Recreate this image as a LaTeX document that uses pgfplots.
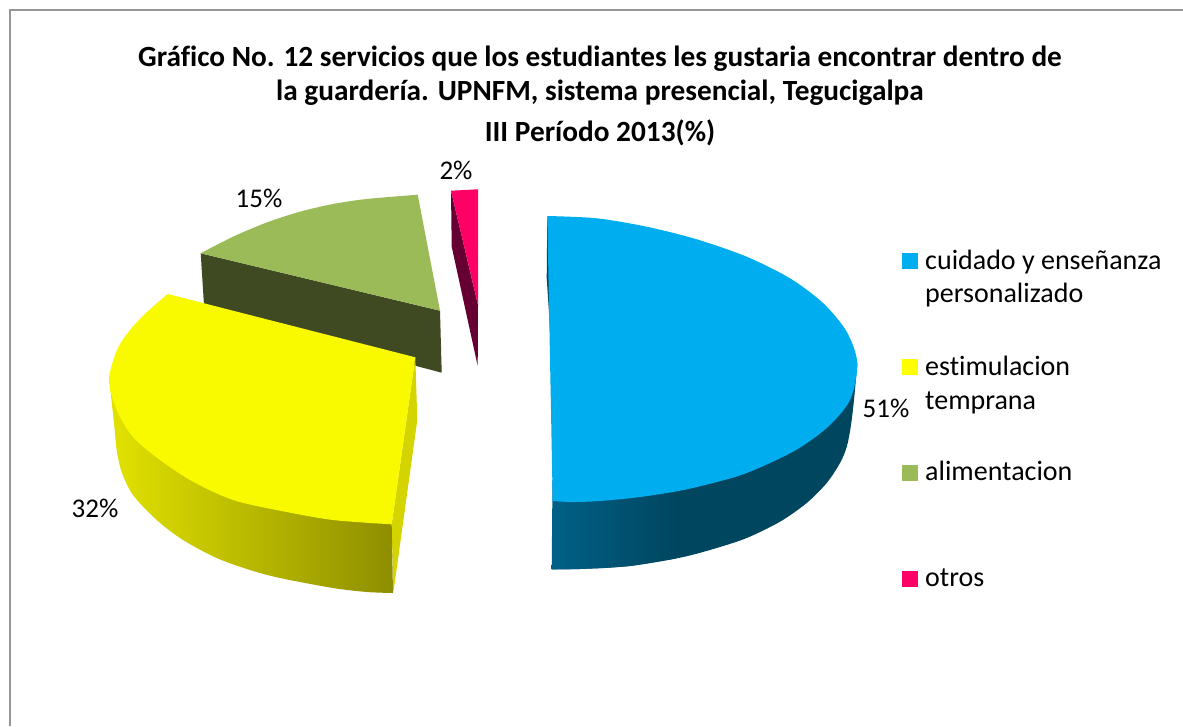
\documentclass[border=0pt]{standalone}
\usepackage{pgfplots}
\pgfplotsset{compat=1.18}
\usepackage{fontspec}
\setmainfont{Carlito}[Ligatures=NoCommon]
\definecolor{cblue}{HTML}{00AEEF}
\definecolor{cyel}{HTML}{F9F900}
\definecolor{cyelb}{HTML}{FFFF00}
\definecolor{cgreen}{HTML}{9BBB59}
\definecolor{cgreend}{HTML}{3F4A22}
\definecolor{cpink}{HTML}{FF0066}
\definecolor{cpinkd}{HTML}{660033}
\definecolor{cframe}{HTML}{969696}
\definecolor{cyels}{HTML}{D4D400}
\definecolor{cyell}{HTML}{E2E200}
\definecolor{cyelr}{HTML}{8E8E00}
\definecolor{cbluel}{HTML}{006187}
\definecolor{cblued}{HTML}{00465F}
\newcommand{\titlefont}{\fontsize{29.3}{33}\selectfont\bfseries}
\newcommand{\legfont}{\fontsize{28}{30}\selectfont}
\newcommand{\pctfont}{\fontsize{27}{28}\selectfont}
\begin{document}
\begin{tikzpicture}
\path[use as bounding box] (0,0) rectangle (1183pt,726pt);
\begin{axis}[at={(0pt,0pt)},anchor=south west,scale only axis,width=1183pt,height=726pt,
  xmin=0,xmax=1183,ymin=0,ymax=726,y dir=reverse,hide axis,clip=false,no markers]
\addplot[draw=cframe,line width=2pt] coordinates {(9.5,726)(9.5,9.5)(1183,9.5)};
% alimentacion
\addplot[fill=cgreend,draw=none] coordinates {(200.7,253.3)(440,310.7)(441.7,372.7)(204.3,310)} -- cycle;
\addplot[fill=cgreen,draw=none,smooth] coordinates {(200.7,253.3)(233,236.7)(266.7,222.5)(300,211.7)(333,204)(366.7,199)(417.7,194.7)} -- cycle;
\addplot[fill=cgreen,draw=none] coordinates {(200.7,253.3)(300,218)(417.7,194.7)(440,310.7)} -- cycle;
% otros
\addplot[fill=cpinkd,draw=none] coordinates {(451,190.7)(478,305)(477.7,366)(451.7,246.7)} -- cycle;
\addplot[fill=cpink,draw=none] coordinates {(451,190.7)(478,189.3)(478,305)} -- cycle;
% estimulacion
\addplot[fill=cyels,draw=none] coordinates {(415.3,357.3)(417.3,420)(393.3,593)(391.7,524.3)} -- cycle;
\addplot[left color=cyell,right color=cyelr,draw=none,smooth] coordinates {(110,387)(114,423)(116.7,450)(121.7,472)(133,495)(156.7,520)(183,540)(216.7,558)(250,570)(280,578)(333,588)(367,592)(393,593)} -- (391.7,524.3) -- cycle;
\addplot[fill=cyel,draw=none,smooth] coordinates {(391.7,524.3)(333,520)(280,510.7)(233,500)(193,481.7)(160,460)(133,437)(116.7,410)(109,380)(117,350)(130,330)(147,312)(167.7,294)} -- cycle;
\addplot[fill=cyel,draw=none] coordinates {(167.7,294)(415.3,357.3)(391.7,524.3)(283,500)(193,465)(135,410)(125,360)} -- cycle;
% cuidado
\addplot[fill=cblued,draw=none] coordinates {(547.3,216)(546.7,278)(554.7,400)(556,300)} -- cycle;
\addplot[fill=cblued,draw=none,smooth] coordinates {(857.3,363.3)(854,400)(850.7,427)(846.7,447)(840,463)(826.7,483)(806.7,503)(780,521.7)(746.7,538)(713.3,549)(680,557.7)(630,566)(580,569)(551.7,569.3)} -- cycle;
\addplot[left color=cbluel,right color=cblued,draw=none] coordinates {(551.7,569.3)(580,569)(605,568)(630,566)(655,562)(676,558.5)(676,480)(552.5,480)} -- cycle;
\addplot[fill=cblue,draw=none,smooth] coordinates {(547.3,216)(596.7,218.3)(646.7,226.7)(696.7,239.3)(746.7,256.7)(790,278.3)(823,303)(846.7,331.7)(857.3,363.3)(850,400)(826.7,428)(793,451.7)(746.7,473)(713,483)(680,490.7)(640,497)(600,501)(573,502)(552.7,501)} -- cycle;
\addplot[fill=cblue,draw=none] coordinates {(547.3,216)(600,300)(600,495)(552.7,501)(553.3,450)(554.7,400)} -- cycle;
% legend swatches
\addplot[fill=cblue,draw=none] coordinates {(902,253.3)(918,253.3)(918,269)(902,269)} -- cycle;
\addplot[fill=cyelb,draw=none] coordinates {(902,359)(918,359)(918,375)(902,375)} -- cycle;
\addplot[fill=cgreen,draw=none] coordinates {(902,465)(918,465)(918,481)(902,481)} -- cycle;
\addplot[fill=cpink,draw=none] coordinates {(902,571)(918,571)(918,587)(902,587)} -- cycle;
\node[anchor=base,font=\titlefont] at (axis cs:600,66) {Gráfico No. 12 servicios que los estudiantes les gustaria encontrar dentro de};
\node[anchor=base,font=\titlefont] at (axis cs:600,100) {la guardería. UPNFM, sistema presencial, Tegucigalpa};
\node[anchor=base,font=\titlefont] at (axis cs:600,141) {III Período 2013(\%)};
\node[anchor=base west,inner sep=0pt,font=\legfont] at (axis cs:925,269) {cuidado y enseñanza};
\node[anchor=base west,inner sep=0pt,font=\legfont] at (axis cs:925,302.7) {personalizado};
\node[anchor=base west,inner sep=0pt,font=\legfont] at (axis cs:925,375) {estimulacion};
\node[anchor=base west,inner sep=0pt,font=\legfont] at (axis cs:925,409) {temprana};
\node[anchor=base west,inner sep=0pt,font=\legfont] at (axis cs:925,480.7) {alimentacion};
\node[anchor=base west,inner sep=0pt,font=\legfont] at (axis cs:925,586.7) {otros};
\node[anchor=base,inner sep=0pt,font=\pctfont] at (axis cs:886,417) {51\%};
\node[anchor=base,inner sep=0pt,font=\pctfont] at (axis cs:95,517) {32\%};
\node[anchor=base,inner sep=0pt,font=\pctfont] at (axis cs:259,207) {15\%};
\node[anchor=base,inner sep=0pt,font=\pctfont] at (axis cs:456,179) {2\%};
\end{axis}
\end{tikzpicture}
\end{document}
